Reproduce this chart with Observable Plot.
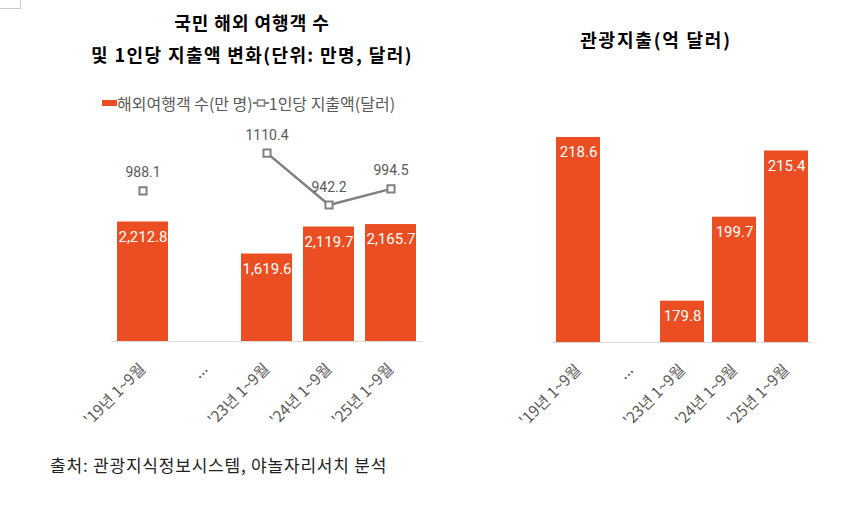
<!DOCTYPE html>
<html>
<head>
<meta charset="utf-8">
<script src="https://cdn.jsdelivr.net/npm/d3@7"></script>
<script src="https://cdn.jsdelivr.net/npm/@observablehq/plot@0.6"></script>
<style>
  html, body { margin: 0; padding: 0; background: #fff; }
  #root { position: relative; width: 856px; height: 508px; overflow: hidden; font-family: "Noto Sans CJK KR", "Noto Sans", sans-serif; }
  .abs { position: absolute; }
  .title { font-weight: 700; font-size: 18px; color: #000; text-align: center; white-space: nowrap; }
  .legend { font-size: 16px; color: #595959; white-space: nowrap; display: flex; align-items: center; }
  .caption { font-size: 17px; letter-spacing: 0.8px; color: #222; white-space: nowrap; }
</style>
</head>
<body>
<div id="root">
  <div class="abs" style="left:0;top:0;width:20px;height:8px;border-right:1px solid #ccc;border-bottom:1px solid #ccc;"></div>
  <div class="abs title" style="left:52px;width:400px;top:9px;line-height:26px;letter-spacing:1px;">국민 해외 여행객 수</div>
  <div class="abs title" style="left:52px;width:400px;top:41px;line-height:26px;letter-spacing:1.4px;">및 1인당 지출액 변화(단위: 만명, 달러)</div>
  <div class="abs title" style="left:506px;width:300px;top:26px;line-height:26px;letter-spacing:1.8px;">관광지출(억 달러)</div>
  <div class="abs legend" id="legend" style="left:102px;top:93px;height:20px;"></div>
  <div class="abs" id="left" style="left:60px;top:110px;"></div>
  <div class="abs" id="leftLine" style="left:60px;top:110px;pointer-events:none;"></div>
  <div class="abs" id="right" style="left:490px;top:100px;"></div>
  <div class="abs caption" style="left:50px;top:453px;line-height:24px;">출처: 관광지식정보시스템, 야놀자리서치 분석</div>
</div>
<script>
// ---- data ----
const periods = ["'19년 1~9월", "...", "'23년 1~9월", "'24년 1~9월", "'25년 1~9월"];
const travelers = [2212.8, null, 1619.6, 2119.7, 2165.7];   // 해외여행객 수(만 명)
const perCapita = [988.1, null, 1110.4, 942.2, 994.5];      // 1인당 지출액(달러)
const spending = [218.6, null, 179.8, 199.7, 215.4];        // 관광지출(억 달러)
const legendLabels = ["해외여행객 수(만 명)", "1인당 지출액(달러)"];

const BAR = "#EA4E22";
const LINE = "#808080";
const TXT = "#595959";
const FONT = "'Noto Sans CJK KR', 'Noto Sans', sans-serif";
const NUMFONT = "Roboto, 'Noto Sans', sans-serif";

const rows = periods.map((p, i) => ({p, t: travelers[i], c: perCapita[i], s: spending[i]}));
const fmtComma = d3.format(",.1f");
const fmt1 = d3.format(".1f");

// ---- left chart: bars ----
const leftW = 380, leftH = 335;
const leftMargins = {marginLeft: 51, marginRight: 17, marginTop: 15, marginBottom: 104};
const xLeft = {type: "band", domain: periods, paddingInner: 0.17, paddingOuter: 0.08};

const leftPlot = Plot.plot({
  width: leftW, height: leftH, ...leftMargins,
  style: {fontFamily: FONT, fontSize: "15.5px", color: TXT, background: "transparent"},
  x: {...xLeft, label: null, tickSize: 0, tickRotate: -45, tickPadding: 25},
  y: {domain: [0, 4000], axis: null},
  marks: [
    Plot.barY(rows.filter(d => d.t != null), {x: "p", y: "t", fill: BAR}),
    Plot.ruleY([0], {stroke: "#d9d9d9", strokeWidth: 1.2}),
    Plot.text(rows.filter(d => d.t != null), {x: "p", y: "t", text: d => fmtComma(d.t), dy: 15, fill: "white", fontSize: 15, fontFamily: NUMFONT})
  ]
});
document.getElementById("left").appendChild(leftPlot);

// ---- left chart: line (secondary axis) ----
const linePlot = Plot.plot({
  width: leftW, height: leftH, ...leftMargins,
  style: {fontFamily: NUMFONT, background: "transparent"},
  x: {...xLeft, axis: null},
  y: {domain: [500, 1200], axis: null},
  marks: [
    Plot.line(rows, {x: "p", y: "c", stroke: LINE, strokeWidth: 2.5}),
    Plot.dot(rows.filter(d => d.c != null), {x: "p", y: "c", symbol: "square", r: 4, stroke: LINE, strokeWidth: 2, fill: "white"}),
    Plot.text(rows.filter(d => d.c != null), {x: "p", y: "c", text: d => fmt1(d.c), dy: -18, fill: TXT, fontSize: 14})
  ]
});
document.getElementById("leftLine").appendChild(linePlot);

// ---- right chart ----
const rightPlot = Plot.plot({
  width: 350, height: 345,
  marginLeft: 62, marginRight: 28, marginTop: 10, marginBottom: 103,
  style: {fontFamily: FONT, fontSize: "15.5px", color: TXT, background: "transparent"},
  x: {type: "band", domain: periods, paddingInner: 0.16, paddingOuter: 0.04, label: null, tickSize: 0, tickRotate: -45, tickPadding: 25},
  y: {domain: [170, 225], axis: null},
  marks: [
    Plot.barY(rows.filter(d => d.s != null), {x: "p", y1: 170, y2: "s", fill: BAR}),
    Plot.ruleY([170], {stroke: "#d9d9d9", strokeWidth: 1.2}),
    Plot.text(rows.filter(d => d.s != null), {x: "p", y: "s", text: d => fmt1(d.s), dy: 15, fill: "white", fontSize: 15, fontFamily: NUMFONT})
  ]
});
document.getElementById("right").appendChild(rightPlot);

// ---- legend ----
const lg = document.getElementById("legend");
lg.innerHTML =
  `<svg width="15" height="8"><rect x="0" y="1" width="15" height="6" fill="${BAR}"/></svg>` +
  `<span>${legendLabels[0]}</span>` +
  `<svg width="16" height="10"><line x1="0" x2="16" y1="5" y2="5" stroke="${LINE}" stroke-width="2"/><rect x="4.5" y="2" width="7" height="6" fill="white" stroke="${LINE}" stroke-width="1.5"/></svg>` +
  `<span>${legendLabels[1]}</span>`;
</script>
</body>
</html>
